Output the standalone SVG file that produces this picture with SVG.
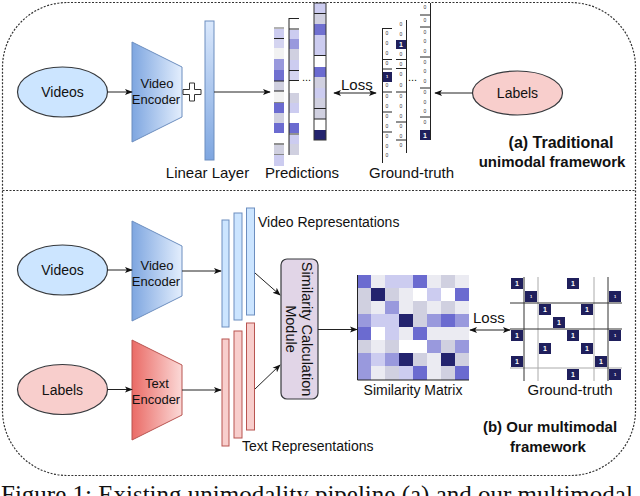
<svg xmlns="http://www.w3.org/2000/svg" width="640" height="496" viewBox="0 0 640 496">
<style>
text{font-family:"Liberation Sans",Arial,sans-serif;fill:#111}
.t15{font-size:15px}
.t14{font-size:14px}
.t13{font-size:13px}
.cap{font-size:15px;font-weight:bold}
.c{text-anchor:middle}
.ln{stroke:#222;stroke-width:1;fill:none}
.ell{stroke:#36393d;stroke-width:1.2}
.blu{fill:#cce5ff}
.pnk{fill:#f8cecc}
.dash{fill:none;stroke:#333;stroke-width:1.2;stroke-dasharray:2 1.5}
.g0{font-size:5px;fill:#333;text-anchor:middle}
.one{font-size:7px;font-weight:bold;fill:#fff;text-anchor:middle}
.tiny{font-size:4px;font-weight:bold;fill:#fff;text-anchor:middle}
.L{fill:#ccccf0}.G{fill:#d0d0e0}.M1{fill:#9999dd}.M{fill:#6b6bd0}.D{fill:#23236e}.V{fill:#ebebf2}.W{fill:#ffffff}.F{fill:#f2f2f2}
.dk{fill:#1f1f5c}
</style>
<defs>
<linearGradient id="gBlue" x1="0" y1="0" x2="1" y2="0"><stop offset="0" stop-color="#7ea6e0"/><stop offset="1" stop-color="#e3eefd"/></linearGradient>
<linearGradient id="gRed" x1="0" y1="0" x2="1" y2="0"><stop offset="0" stop-color="#ea6b66"/><stop offset="1" stop-color="#fbd9d7"/></linearGradient>
<linearGradient id="gLin" x1="0" y1="0" x2="0" y2="1"><stop offset="0" stop-color="#dae8fc"/><stop offset="1" stop-color="#7ea6e0"/></linearGradient>
<marker id="ah" viewBox="0 0 10 10" refX="9" refY="5" markerWidth="8" markerHeight="8" markerUnits="userSpaceOnUse" orient="auto-start-reverse"><path d="M0,1 L10,5 L0,9 L2.5,5 z" fill="#111"/></marker>
</defs>

<!-- frame -->
<rect class="dash" x="2.5" y="2.5" width="633" height="473" rx="65" ry="65"/>
<line class="dash" x1="2.5" y1="190.5" x2="635.5" y2="190.5"/>

<!-- ===== (a) Traditional ===== -->
<g id="videos-a">
<ellipse class="ell blu" cx="62.5" cy="92" rx="45" ry="25"/>
<text class="t14 c" x="62.5" y="97">Videos</text>
</g>
<g id="encoder-a">
<polygon points="132,42 182,67 182,117 132,142" fill="url(#gBlue)" stroke="#6c8ebf" stroke-width="1"/>
<text class="t13 c" x="157" y="88">Video</text>
<text class="t13 c" x="156" y="104">Encoder</text>
</g>
<g id="plus">
<path d="M189.5,83 H194.5 V89.5 H201 V94.5 H194.5 V101 H189.5 V94.5 H183 V89.5 H189.5 Z" fill="#fff" stroke="#333" stroke-width="1"/>
</g>
<g id="linear-layer">
<rect x="205" y="21" width="9" height="139" fill="url(#gLin)" stroke="#6c8ebf" stroke-width="1"/>
<text class="t15 c" x="207.5" y="178">Linear Layer</text>
</g>

<g id="predictions">
<!-- col1 -->
<line x1="274" y1="28" x2="284" y2="28" stroke="#999" stroke-width="1.5"/>
<rect class="L" x="274" y="29" width="10" height="9"/>
<rect x="274" y="39" width="10" height="9" fill="#d4d4f0"/>
<rect class="F" x="274" y="48" width="10" height="11"/>
<rect class="M1" x="274" y="59" width="10" height="11"/>
<rect fill="#7070d0" x="274" y="70" width="10" height="11"/>
<rect class="G" x="274" y="81" width="10" height="10"/>
<rect class="F" x="274" y="91" width="10" height="11"/>
<rect class="M" x="274" y="103" width="10" height="10"/>
<rect class="G" x="274" y="113" width="10" height="10"/>
<rect class="M" x="274" y="123" width="10" height="10"/>
<rect class="G" x="274" y="145" width="10" height="9"/>
<rect class="L" x="274" y="155" width="10" height="11"/>
<g stroke="#222" stroke-width="1">
<line x1="274" y1="38.5" x2="284" y2="38.5"/><line x1="274" y1="81" x2="284" y2="81"/><line x1="274" y1="91" x2="284" y2="91"/>
<line x1="274" y1="144" x2="284" y2="144"/>
</g>
<g stroke="#888" stroke-width="1"><line x1="274" y1="102.5" x2="284" y2="102.5"/><line x1="274" y1="154.5" x2="284" y2="154.5"/></g>
<!-- col2 -->
<rect class="L" x="289" y="30" width="10" height="9"/>
<rect class="M1" x="289" y="39" width="10" height="10"/>
<rect class="G" x="289" y="49" width="10" height="11"/>
<rect class="L" x="289" y="60" width="10" height="10"/>
<rect x="289" y="71" width="10" height="9" fill="#d4d4f0"/>
<rect class="G" x="289" y="93" width="10" height="10"/>
<rect class="L" x="289" y="103" width="10" height="10"/>
<rect class="M" x="289" y="123" width="10" height="10"/>
<rect class="L" x="289" y="135" width="10" height="9"/>
<rect class="G" x="289" y="144" width="10" height="11"/>
<g stroke="#222" stroke-width="1">
<line x1="289" y1="18" x2="289" y2="155"/>
<line x1="289" y1="18.5" x2="299" y2="18.5"/>
<line x1="289" y1="29" x2="299" y2="29"/><line x1="289" y1="70.5" x2="299" y2="70.5"/><line x1="289" y1="80.5" x2="299" y2="80.5"/><line x1="289" y1="134" x2="299" y2="134"/>
</g>
<text x="302" y="81" style="font-size:11px">...</text>
<!-- col3 -->
<rect class="L" x="314" y="3" width="12" height="10"/>
<rect class="G" x="314" y="14" width="12" height="10"/>
<rect fill="#7070d0" x="314" y="24" width="12" height="11"/>
<rect class="L" x="314" y="35" width="12" height="20"/>
<rect class="M" x="314" y="67" width="12" height="10"/>
<rect class="G" x="314" y="77" width="12" height="11"/>
<rect class="L" x="314" y="88" width="12" height="10"/>
<rect class="G" x="314" y="98" width="12" height="10"/>
<rect class="G" x="314" y="109" width="12" height="10"/>
<rect class="D" x="314" y="130" width="12" height="10"/>
<g stroke="#222" stroke-width="1">
<line x1="314" y1="13.5" x2="326" y2="13.5"/><line x1="314" y1="55.5" x2="326" y2="55.5"/><line x1="314" y1="108.5" x2="326" y2="108.5"/><line x1="314" y1="119" x2="326" y2="119"/>
</g>
<rect x="314" y="3" width="12" height="137" fill="none" stroke="#333" stroke-width="1"/>
<text class="t15 c" x="302" y="178">Predictions</text>
</g>

<g id="groundtruth-a">
<!-- col1 -->
<rect class="dk" x="382" y="72" width="10" height="10"/>
<g stroke="#222" stroke-width="1">
<line x1="382.5" y1="28" x2="382.5" y2="163"/>
<line x1="382" y1="28.5" x2="392" y2="28.5"/><line x1="382" y1="59.5" x2="392" y2="59.5"/><line x1="382" y1="69" x2="392" y2="69"/><line x1="382" y1="92" x2="392" y2="92"/><line x1="382" y1="112" x2="392" y2="112"/><line x1="382" y1="132" x2="392" y2="132"/>
</g>
<text class="g0" x="387" y="35">0</text><text class="g0" x="387" y="45">0</text><text class="g0" x="387" y="55">0</text><text class="g0" x="387" y="65">0</text>
<text class="tiny" x="387" y="78">1</text>
<text class="g0" x="387" y="87">0</text><text class="g0" x="387" y="98">0</text><text class="g0" x="387" y="108">0</text><text class="g0" x="387" y="118">0</text><text class="g0" x="387" y="128">0</text><text class="g0" x="387" y="138">0</text><text class="g0" x="387" y="148">0</text><text class="g0" x="387" y="157">0</text>
<!-- col2 -->
<rect class="dk" x="396" y="40" width="10" height="9"/>
<g stroke="#222" stroke-width="1">
<line x1="406.5" y1="20" x2="406.5" y2="153"/>
<line x1="396" y1="59.5" x2="406" y2="59.5"/><line x1="396" y1="68.5" x2="406" y2="68.5"/><line x1="396" y1="92" x2="406" y2="92"/><line x1="396" y1="122" x2="406" y2="122"/><line x1="396" y1="140" x2="406" y2="140"/>
</g>
<text class="g0" x="401" y="26">0</text><text class="g0" x="401" y="36">0</text>
<text class="one" x="401" y="47">1</text>
<text class="g0" x="401" y="56">0</text><text class="g0" x="401" y="66">0</text><text class="g0" x="401" y="76">0</text><text class="g0" x="401" y="87">0</text><text class="g0" x="401" y="98">0</text><text class="g0" x="401" y="108">0</text><text class="g0" x="401" y="118">0</text><text class="g0" x="401" y="128">0</text><text class="g0" x="401" y="138">0</text><text class="g0" x="401" y="147">0</text>
<text x="408" y="81" style="font-size:11px">...</text>
<!-- col3 -->
<rect class="dk" x="420" y="130" width="10" height="10"/>
<g stroke="#222" stroke-width="1">
<line x1="430.5" y1="3" x2="430.5" y2="140"/>
<line x1="420" y1="15" x2="430" y2="15"/><line x1="420" y1="27" x2="430" y2="27"/><line x1="420" y1="57" x2="430" y2="57"/><line x1="420" y1="88" x2="430" y2="88"/><line x1="420" y1="117" x2="430" y2="117"/>
</g>
<text class="g0" x="425" y="9">0</text><text class="g0" x="425" y="22">0</text><text class="g0" x="425" y="34">0</text><text class="g0" x="425" y="43">0</text><text class="g0" x="425" y="53">0</text><text class="g0" x="425" y="64">0</text><text class="g0" x="425" y="73">0</text><text class="g0" x="425" y="83">0</text><text class="g0" x="425" y="94">0</text><text class="g0" x="425" y="104">0</text><text class="g0" x="425" y="113">0</text><text class="g0" x="425" y="124">0</text>
<text class="one" x="425" y="138">1</text>
<text class="t15 c" x="411.5" y="178">Ground-truth</text>
</g>

<g id="labels-a">
<ellipse class="ell pnk" cx="517.5" cy="93" rx="45" ry="22"/>
<text class="t14 c" x="517.5" y="98">Labels</text>
</g>
<g id="caption-a">
<text class="cap c" x="561" y="148" style="font-size:16px">(a) Traditional</text>
<text class="cap c" x="552" y="167">unimodal framework</text>
</g>

<!-- ===== (b) multimodal ===== -->
<g id="videos-b">
<ellipse class="ell blu" cx="62.5" cy="270" rx="45" ry="25"/>
<text class="t14 c" x="62.5" y="275">Videos</text>
</g>
<g id="labels-b">
<ellipse class="ell pnk" cx="62.5" cy="389.5" rx="45" ry="25"/>
<text class="t14 c" x="62.5" y="395">Labels</text>
</g>
<g id="encoder-b">
<polygon points="132,221 182,246 182,296 132,321" fill="url(#gBlue)" stroke="#6c8ebf" stroke-width="1"/>
<text class="t13 c" x="157" y="270">Video</text>
<text class="t13 c" x="156" y="286">Encoder</text>
</g>
<g id="text-encoder">
<polygon points="132,340 182,365 182,415 132,440" fill="url(#gRed)" stroke="#b85450" stroke-width="1"/>
<text class="t13 c" x="157" y="388">Text</text>
<text class="t13 c" x="156" y="404">Encoder</text>
</g>
<g id="video-representations">
<rect class="blu" x="222" y="220" width="7" height="107" stroke="#6c8ebf"/>
<rect class="blu" x="234" y="213" width="8" height="107" stroke="#6c8ebf"/>
<rect class="blu" x="246.5" y="208" width="8" height="107" stroke="#6c8ebf"/>
<text class="t14" x="258" y="227">Video Representations</text>
</g>
<g id="text-representations">
<rect class="pnk" x="222" y="339" width="7" height="107" stroke="#b85450"/>
<rect class="pnk" x="234" y="331" width="8" height="107" stroke="#b85450"/>
<rect class="pnk" x="246.5" y="323" width="8" height="107" stroke="#b85450"/>
<text class="t14" x="242" y="451">Text Representations</text>
</g>
<g id="similarity-module">
<rect x="281" y="259" width="37" height="140" rx="6" fill="#e1d5e7" stroke="#36393d" stroke-width="1.2"/>
<g transform="translate(299.5,329) rotate(90)">
<text class="c" x="0" y="-2.5" style="font-size:14.5px">Similarity Calculation</text>
<text class="c" x="0" y="14" style="font-size:14.5px">Module</text>
</g>
</g>

<g id="similarity-matrix">
<g transform="translate(357,275)">
<rect class="M" x="0" y="0" width="14" height="13"/><rect class="V" x="14" y="0" width="14" height="13"/><rect class="L" x="28" y="0" width="14" height="13"/><rect class="L" x="42" y="0" width="14" height="13"/><rect class="M" x="56" y="0" width="14" height="13"/><rect class="V" x="70" y="0" width="14" height="13"/><rect class="G" x="84" y="0" width="14" height="13"/><rect class="V" x="98" y="0" width="14" height="13"/>
<rect class="G" x="0" y="13" width="14" height="13"/><rect class="D" x="14" y="13" width="14" height="13"/><rect class="G" x="28" y="13" width="14" height="13"/><rect class="V" x="42" y="13" width="14" height="13"/><rect class="W" x="56" y="13" width="14" height="13"/><rect class="L" x="70" y="13" width="14" height="13"/><rect class="W" x="84" y="13" width="14" height="13"/><rect class="M" x="98" y="13" width="14" height="13"/>
<rect class="G" x="0" y="26" width="14" height="13"/><rect class="V" x="14" y="26" width="14" height="13"/><rect class="M1" x="28" y="26" width="14" height="13"/><rect class="V" x="42" y="26" width="14" height="13"/><rect class="G" x="56" y="26" width="14" height="13"/><rect class="V" x="70" y="26" width="14" height="13"/><rect class="G" x="84" y="26" width="14" height="13"/><rect class="V" x="98" y="26" width="14" height="13"/>
<rect class="M1" x="0" y="39" width="14" height="13"/><rect class="L" x="14" y="39" width="14" height="13"/><rect class="L" x="28" y="39" width="14" height="13"/><rect class="D" x="42" y="39" width="14" height="13"/><rect class="G" x="56" y="39" width="14" height="13"/><rect class="M1" x="70" y="39" width="14" height="13"/><rect class="M" x="84" y="39" width="14" height="13"/><rect class="M1" x="98" y="39" width="14" height="13"/>
<rect class="M" x="0" y="52" width="14" height="13"/><rect class="W" x="14" y="52" width="14" height="13"/><rect class="L" x="28" y="52" width="14" height="13"/><rect class="V" x="42" y="52" width="14" height="13"/><rect class="M" x="56" y="52" width="14" height="13"/><rect class="V" x="70" y="52" width="14" height="13"/><rect class="V" x="84" y="52" width="14" height="13"/><rect class="V" x="98" y="52" width="14" height="13"/>
<rect class="G" x="0" y="65" width="14" height="13"/><rect class="V" x="14" y="65" width="14" height="13"/><rect class="G" x="28" y="65" width="14" height="13"/><rect class="W" x="42" y="65" width="14" height="13"/><rect class="W" x="56" y="65" width="14" height="13"/><rect class="M1" x="70" y="65" width="14" height="13"/><rect class="G" x="84" y="65" width="14" height="13"/><rect class="M1" x="98" y="65" width="14" height="13"/>
<rect class="M1" x="0" y="78" width="14" height="13"/><rect class="L" x="14" y="78" width="14" height="13"/><rect class="M1" x="28" y="78" width="14" height="13"/><rect class="D" x="42" y="78" width="14" height="13"/><rect class="G" x="56" y="78" width="14" height="13"/><rect class="V" x="70" y="78" width="14" height="13"/><rect class="D" x="84" y="78" width="14" height="13"/><rect class="G" x="98" y="78" width="14" height="13"/>
<rect class="M1" x="0" y="91" width="14" height="14"/><rect class="V" x="14" y="91" width="14" height="14"/><rect class="G" x="28" y="91" width="14" height="14"/><rect class="L" x="42" y="91" width="14" height="14"/><rect class="M" x="56" y="91" width="14" height="14"/><rect class="V" x="70" y="91" width="14" height="14"/><rect class="G" x="84" y="91" width="14" height="14"/><rect class="M" x="98" y="91" width="14" height="14"/>
<path d="M0.5,0 V105 H112" fill="none" stroke="#222" stroke-width="1"/>
</g>
<text class="t14 c" x="413" y="395">Similarity Matrix</text>
</g>

<g id="groundtruth-b">
<g transform="translate(510,277)">
<g stroke="#aaa" stroke-width="1">
<line x1="28" y1="0" x2="28" y2="104"/><line x1="84" y1="0" x2="84" y2="104"/><line x1="0" y1="91" x2="112" y2="91"/>
</g>
<g stroke="#333" stroke-width="1">
<line x1="14" y1="0" x2="14" y2="104"/><line x1="98" y1="0" x2="98" y2="104"/><line x1="0" y1="26" x2="112" y2="26"/><line x1="0" y1="52" x2="112" y2="52"/>
</g>
<rect class="dk" x="1" y="1" width="12" height="11"/><rect class="dk" x="57" y="1" width="12" height="11"/>
<rect class="dk" x="15" y="14" width="12" height="11"/><rect class="dk" x="99" y="14" width="12" height="11"/>
<rect class="dk" x="29" y="27" width="12" height="11"/><rect class="dk" x="71" y="27" width="12" height="11"/>
<rect class="dk" x="43" y="40" width="12" height="11"/>
<rect class="dk" x="1" y="53" width="12" height="11"/><rect class="dk" x="57" y="53" width="12" height="11"/><rect class="dk" x="99" y="53" width="12" height="11"/>
<rect class="dk" x="29" y="66" width="12" height="11"/><rect class="dk" x="71" y="66" width="12" height="11"/>
<rect class="dk" x="1" y="79" width="12" height="11"/><rect class="dk" x="85" y="79" width="12" height="11"/>
<rect class="dk" x="57" y="92" width="12" height="11"/><rect class="dk" x="99" y="92" width="12" height="11"/>
<text class="one" x="7" y="9">1</text><text class="one" x="63" y="9">1</text>
<text class="tiny" x="21" y="21">1</text><text class="tiny" x="105" y="21">1</text>
<text class="one" x="35" y="35">1</text><text class="one" x="77" y="35">1</text>
<text class="one" x="49" y="48">1</text>
<text class="one" x="7" y="61">1</text><text class="one" x="63" y="61">1</text><text class="tiny" x="105" y="60">1</text>
<text class="one" x="35" y="74">1</text><text class="one" x="77" y="74">1</text>
<text class="one" x="7" y="87">1</text><text class="one" x="91" y="87">1</text>
<text class="one" x="63" y="100">1</text><text class="tiny" x="105" y="99">1</text>
</g>
<text class="t15 c" x="570" y="395">Ground-truth</text>
</g>
<g id="caption-b">
<text class="cap c" x="550" y="432">(b) Our multimodal</text>
<text class="cap c" x="548" y="452">framework</text>
</g>

<!-- connectors -->
<g id="connectors" class="ln">
<line x1="107.5" y1="92" x2="132" y2="92" marker-end="url(#ah)"/>
<line x1="214" y1="92" x2="270" y2="92" marker-end="url(#ah)"/>
<line x1="334" y1="93" x2="376" y2="93" marker-start="url(#ah)" marker-end="url(#ah)"/>
<line x1="472.5" y1="93" x2="435" y2="93" marker-end="url(#ah)"/>
<line x1="107.5" y1="270" x2="132" y2="270" marker-end="url(#ah)"/>
<line x1="182" y1="271" x2="221" y2="271" marker-end="url(#ah)"/>
<line x1="107.5" y1="389.5" x2="132" y2="389.5" marker-end="url(#ah)"/>
<line x1="182" y1="390" x2="221" y2="390" marker-end="url(#ah)"/>
<line x1="255" y1="273" x2="280" y2="295" marker-end="url(#ah)"/>
<line x1="255" y1="389" x2="280" y2="365" marker-end="url(#ah)"/>
<line x1="318" y1="329.5" x2="357" y2="329.5" marker-end="url(#ah)"/>
<line x1="470" y1="330" x2="510" y2="330" marker-start="url(#ah)" marker-end="url(#ah)"/>
<text class="t15" x="341" y="90" style="stroke:none">Loss</text>
<text class="t15" x="473" y="323" style="stroke:none">Loss</text>
</g>

<text x="1" y="503" style="font-family:'Liberation Serif','Times New Roman',serif;font-size:25px">Figure 1: Existing unimodality pipeline (a) and our multimodal</text>
</svg>
